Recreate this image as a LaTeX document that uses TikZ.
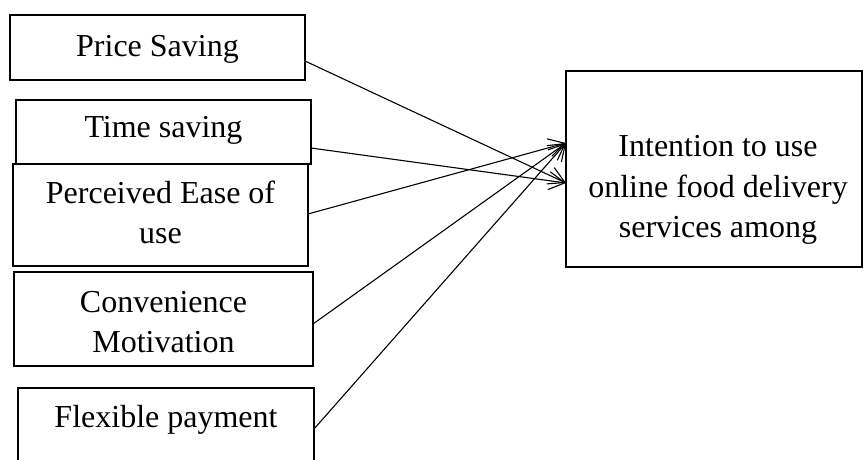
\documentclass[tikz,border=0pt]{standalone}
\usepackage{fontspec}
\setmainfont{Liberation Serif}
\usetikzlibrary{arrows.meta}
\begin{document}
\begin{tikzpicture}[x=1pt,y=-1pt,
  box/.style={draw, line width=1.2pt, rectangle, inner sep=0pt, outer sep=0pt},
  lbl/.style={anchor=base, inner sep=0pt, font=\fontsize{32}{40}\selectfont},
  conn/.style={line width=1.1pt, -{Straight Barb[length=16pt,width=18pt,line width=1.1pt]}}]
\useasboundingbox (0,0) rectangle (863,460);
\clip (0,0) rectangle (863,460);
\fill[white] (0,0) rectangle (863,460);
% boxes
\node[box, minimum width=295pt, minimum height=65pt] (price) at (157.5,47.5) {};
\node[box, minimum width=295pt, minimum height=64pt] (time) at (163.5,132) {};
\node[box, minimum width=295pt, minimum height=102pt] (perc) at (160.5,215) {};
\node[box, minimum width=299pt, minimum height=94pt] (conv) at (163.5,319) {};
\node[box, minimum width=296pt, minimum height=90pt] (flex) at (166,433) {};
\node[box, minimum width=296pt, minimum height=196pt] (target) at (714,169) {};
% labels
\node[lbl] (tprice) at (157.5,57) {Price Saving};
\node[lbl] (ttime) at (163.5,138) {Time saving};
\node[lbl] (tperc1) at (160.5,203) {Perceived Ease of};
\node[lbl] (tperc2) at (160.5,243) {use};
\node[lbl] (tconv1) at (163.5,312) {Convenience};
\node[lbl] (tconv2) at (163.5,352) {Motivation};
\node[lbl] (tflex) at (166,427) {Flexible payment};
\node[lbl] (ttar1) at (718,157) {Intention to use};
\node[lbl] (ttar2) at (718,197) {online food delivery};
\node[lbl] (ttar3) at (718,237) {services among};
% connectors
\coordinate (up) at ([yshift=26pt]target.west);
\coordinate (lo) at ([yshift=-14pt]target.west);
\draw[conn] ([yshift=-13.5pt]price.east) -- (lo);
\draw[conn] ([yshift=-16pt]time.east) -- (lo);
\draw[conn] ([yshift=1pt]perc.east) -- (up);
\draw[conn] ([yshift=-5pt]conv.east) -- (up);
\draw[conn] ([yshift=4pt]flex.east) -- (up);
\end{tikzpicture}
\end{document}
